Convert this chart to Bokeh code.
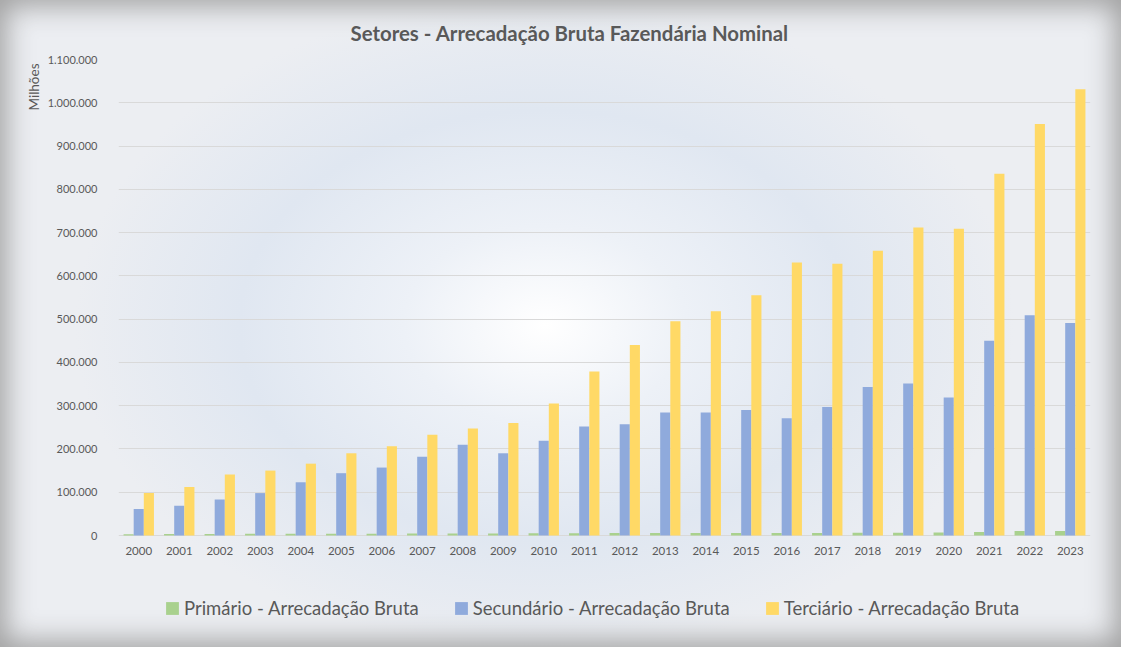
from bokeh.plotting import figure
from bokeh.models import (ColumnDataSource, FactorRange, Range1d, FixedTicker,
                          CustomJSTickFormatter, Legend, LegendItem, Title)
from bokeh.transform import dodge
from bokeh.embed import file_html
from bokeh.resources import INLINE

years = ["2000", "2001", "2002", "2003", "2004", "2005", "2006", "2007",
         "2008", "2009", "2010", "2011", "2012", "2013", "2014", "2015",
         "2016", "2017", "2018", "2019", "2020", "2021", "2022", "2023"]
primario = [3000, 3200, 3500, 3800, 4000, 4200, 4300, 4500, 4800, 4600,
            5000, 5400, 5600, 5900, 6000, 5800, 5600, 5900, 6300, 6500,
            6800, 8000, 10500, 10200]
secundario = [61000, 69000, 83000, 98000, 123000, 144000, 157000, 182000,
              210000, 190000, 219000, 252000, 257000, 284000, 284000, 290000,
              271000, 297000, 343000, 351000, 319000, 450000, 509000, 491000]
terciario = [98000, 112000, 141000, 150000, 166000, 190000, 206000, 233000,
             247000, 260000, 305000, 379000, 440000, 495000, 518000, 555000,
             631000, 628000, 658000, 712000, 709000, 836000, 951000, 1031000]
series_names = ["Primário - Arrecadação Bruta",
                "Secundário - Arrecadação Bruta",
                "Terciário - Arrecadação Bruta"]
colors = ["#a9d18e", "#8faadc", "#ffd966"]
y_ticks = [0, 100000, 200000, 300000, 400000, 500000, 600000, 700000,
           800000, 900000, 1000000, 1100000]

FONT = "Lato"
TXT = "#595959"

# layout: value axis 0..1.1M occupies 476px; 100px of room below zero for
# the category labels and the legend (drawn inside the frame, as in Excel)
Y_MAX = y_ticks[-1]
Y_MIN = -Y_MAX * 100 / 476

source = ColumnDataSource(dict(year=years, p=primario, s=secundario, t=terciario))

p = figure(width=1121, height=647, x_range=FactorRange(*years, range_padding=0),
           y_range=Range1d(Y_MIN, Y_MAX), output_backend="svg",
           toolbar_location=None, min_border_left=118, min_border_right=31,
           min_border_top=59, min_border_bottom=12,
           title="Setores - Arrecadação Bruta Fazendária Nominal")

p.styles = {
    "background": "radial-gradient(ellipse 470px 330px at 545px 325px, #ffffff 0%, "
                  "#edf1f7 30%, #e0e7f1 65%, #eceef2 100%), #efefef",
    "box-shadow": "inset 0 0 28px 6px #a0a0a0",
}
p.background_fill_alpha = 0
p.border_fill_alpha = 0
p.outline_line_color = None

p.title.align = "left"
p.title.offset = 232
p.title.standoff = 30
p.title.text_font = FONT
p.title.text_font_size = "20.4px"
p.title.text_font_style = "bold"
p.title.text_color = TXT

w = 0.25
r1 = p.vbar(x=dodge("year", -0.25, range=p.x_range), top="p", width=w, source=source,
            fill_color=colors[0], line_color=None)
r2 = p.vbar(x=dodge("year", 0.0, range=p.x_range), top="s", width=w, source=source,
            fill_color=colors[1], line_color=None)
r3 = p.vbar(x=dodge("year", 0.25, range=p.x_range), top="t", width=w, source=source,
            fill_color=colors[2], line_color=None)

p.yaxis.ticker = FixedTicker(ticks=y_ticks)
p.yaxis.formatter = CustomJSTickFormatter(
    code='return tick.toFixed(0).replace(/\\B(?=(\\d{3})+(?!\\d))/g, ".");')
for ax in (p.xaxis, p.yaxis):
    ax.axis_line_color = None
    ax.major_tick_line_color = None
    ax.minor_tick_line_color = None
    ax.major_label_text_font = FONT
    ax.major_label_text_color = TXT
p.xaxis.fixed_location = 0
p.xaxis.major_label_text_font_size = "11.5px"
p.yaxis.major_label_text_font_size = "11px"
p.xaxis.major_label_standoff = 5
p.yaxis.major_label_standoff = 15
p.xgrid.grid_line_color = None
p.ygrid.grid_line_color = "#d9d9d9"
p.ygrid.grid_line_width = 1

ylab = Title(text="Milhões", align="right", offset=4, standoff=6,
             text_font=FONT, text_font_size="13.5px", text_font_style="normal",
             text_color=TXT)
p.add_layout(ylab, "left")

legend = Legend(items=[LegendItem(label=series_names[0], renderers=[r1]),
                       LegendItem(label=series_names[1], renderers=[r2]),
                       LegendItem(label=series_names[2], renderers=[r3])],
                orientation="horizontal", location=(46, 16))
legend.label_text_font = FONT
legend.label_text_font_size = "18.5px"
legend.label_text_color = TXT
legend.glyph_width = 16
legend.glyph_height = 16
legend.label_standoff = 4
legend.spacing = 34
legend.padding = 0
legend.margin = 0
legend.background_fill_alpha = 0
legend.border_line_color = None
p.add_layout(legend, "center")

open("out.html", "w").write(file_html(p, INLINE))
